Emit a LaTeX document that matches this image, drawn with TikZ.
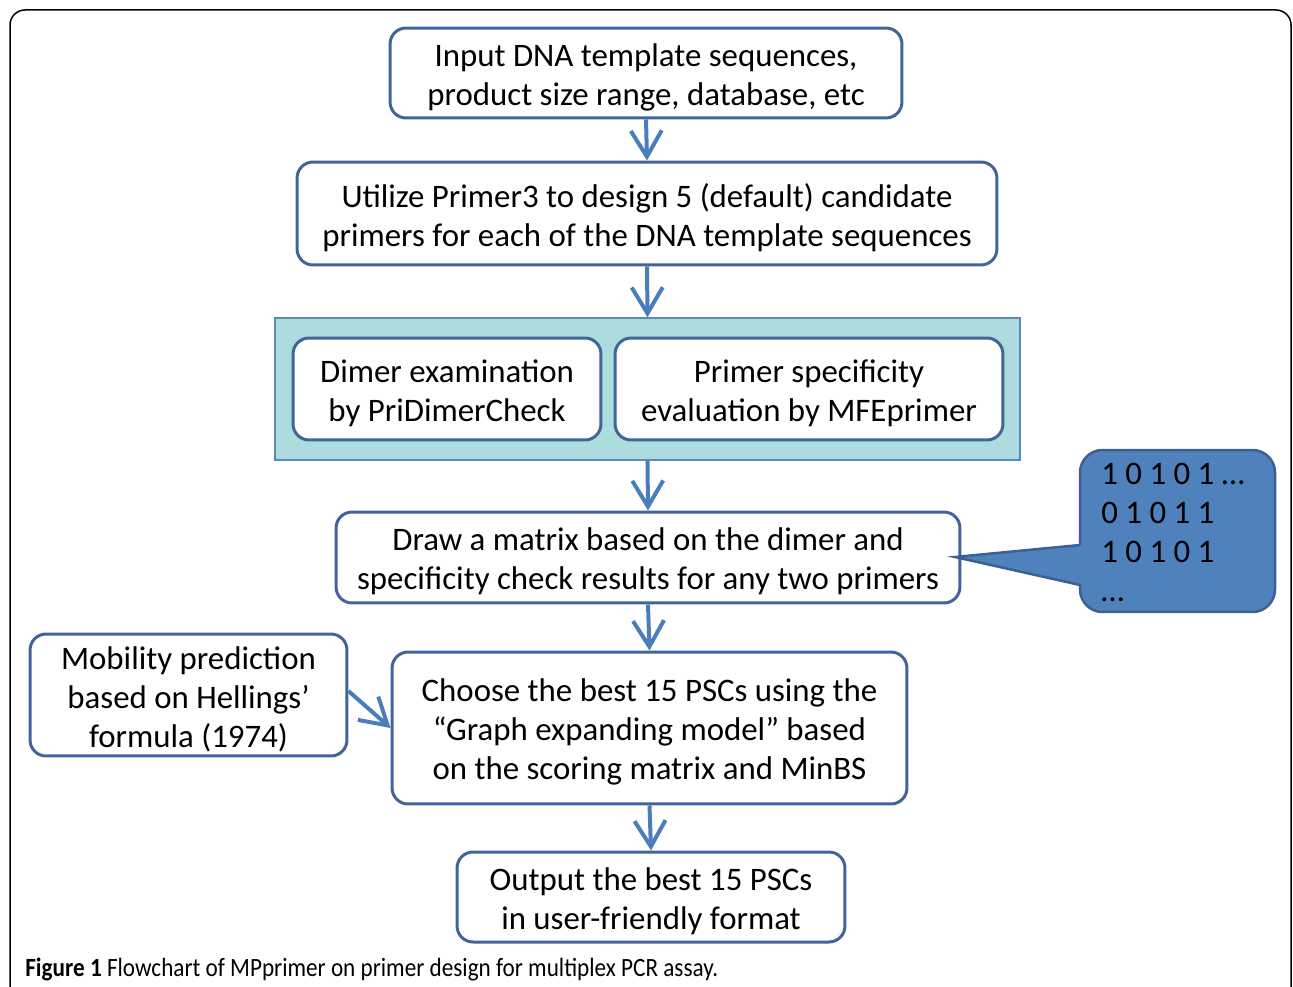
\documentclass[tikz,border=0pt]{standalone}
\usepackage{fontspec}
\setmainfont{Carlito}
\usetikzlibrary{arrows.meta}
\definecolor{boxline}{HTML}{41659A}
\definecolor{arrowc}{HTML}{4A7EBB}
\definecolor{tealfill}{HTML}{ACDCDD}
\definecolor{tealline}{HTML}{5A8AB8}
\definecolor{callfill}{HTML}{4F81BD}
\definecolor{callline}{HTML}{3C6091}
\begin{document}
\begin{tikzpicture}[x=0.02cm,y=-0.02cm,
  flowbox/.style={draw=boxline,line width=0.06cm,fill=white,rounded corners=0.32cm,inner sep=0pt},
  flowtext/.style={align=center,inner sep=0pt,yshift=-0.08cm,font=\fontsize{18.7pt}{22.2pt}\selectfont},
  flowarrow/.style={draw=arrowc,line width=0.08cm,
    -{Straight Barb[length=0.52cm,width=0.62cm,line width=0.08cm]}}]
\useasboundingbox (0,0) rectangle (1293,986);
\begin{scope}
\clip (0,0) rectangle (1293,986);
\draw[line width=0.03cm,rounded corners=0.3cm] (10,10) rectangle (1291,1020);
\end{scope}
% teal container
\node[draw=tealline,line width=0.03cm,fill=tealfill,minimum width=14.9cm,minimum height=2.84cm,inner sep=0pt] (panel) at (647.5,389) {};
\node[flowbox,minimum width=10.24cm,minimum height=1.8cm,
  label={[flowtext]center:{Input DNA template sequences,\\product size range, database, etc}}] (input) at (646,73) {};
\node[flowbox,minimum width=14cm,minimum height=2.06cm,
  label={[flowtext]center:{Utilize Primer3 to design 5 (default) candidate\\primers for each of the DNA template sequences}}] (utilize) at (647,213.5) {};
\node[flowbox,minimum width=6.16cm,minimum height=2.04cm,
  label={[flowtext]center:{Dimer examination\\by PriDimerCheck}}] (dimer) at (447,389) {};
\node[flowbox,minimum width=7.76cm,minimum height=2.04cm,
  label={[flowtext]center:{Primer specificity\\evaluation by MFEprimer}}] (spec) at (809,389) {};
\node[flowbox,minimum width=12.48cm,minimum height=1.82cm,
  label={[flowtext]center:{Draw a matrix based on the dimer and\\specificity check results for any two primers}}] (matrix) at (648,557.5) {};
\node[flowbox,minimum width=10.3cm,minimum height=3.04cm,
  label={[flowtext]center:{Choose the best 15 PSCs using the\\``Graph expanding model'' based\\on the scoring matrix and MinBS}}] (choose) at (649.5,728) {};
\node[flowbox,minimum width=6.34cm,minimum height=2.44cm,
  label={[flowtext]center:{Mobility prediction\\based on Hellings'\\formula (1974)}}] (mobility) at (188.5,695) {};
\node[flowbox,minimum width=7.76cm,minimum height=1.8cm,
  label={[flowtext]center:{Output the best 15 PSCs\\in user-friendly format}}] (output) at (651,897) {};
% callout
\coordinate (tip) at (955,557);
\node[draw=callline,fill=callfill,line width=0.05cm,rounded corners=0.45cm,inner sep=0pt,
  minimum width=3.9cm,minimum height=3.24cm] (callbox) at (1177.5,531) {};
\fill[callfill] (tip) -- (1084,545) -- (1084,585) -- cycle;
\draw[callline,line width=0.05cm,line join=miter] (1080,545) -- (tip) -- (1080,585);
\node[anchor=north west,align=left,inner sep=0pt,font=\fontsize{18.7pt}{22.2pt}\selectfont] (callt) at (1101,463) {1 0 1 0 1 …\\0 1 0 1 1\\1 0 1 0 1\\…};
% arrows
\draw[flowarrow] (input.south) -- (utilize.north);
\draw[flowarrow] (utilize.south) -- (panel.north);
\draw[flowarrow] (panel.south) -- (matrix.north);
\draw[flowarrow] (matrix.south) -- (choose.north);
\draw[flowarrow] (choose.south) -- (output.north);
\coordinate (ms) at ([yshift=0.08cm]mobility.east);
\draw[flowarrow] (ms) -- (choose.west);
% caption
\node[anchor=west,inner sep=0pt,font=\fontsize{15pt}{18pt}\selectfont] (caption) at (25,970) {\scalebox{0.88}[1]{\textbf{Figure 1} Flowchart of MPprimer on primer design for multiplex PCR assay.}};
\end{tikzpicture}
\end{document}
